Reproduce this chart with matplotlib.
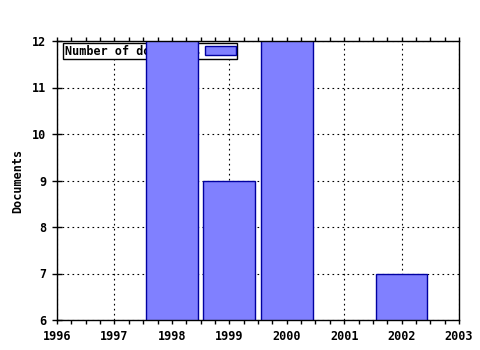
import matplotlib
matplotlib.use("Agg")
import matplotlib.pyplot as plt
from matplotlib.ticker import MultipleLocator

years = [1998, 1999, 2000, 2002]
documents = [13, 9, 13, 7]
xticks = [1996, 1997, 1998, 1999, 2000, 2001, 2002, 2003]
yticks = [6, 7, 8, 9, 10, 11, 12]
series_label = "Number of documents"

font = {"family": "DejaVu Sans Mono", "weight": "bold", "size": 8.5}

fig = plt.figure(figsize=(4.8, 3.5), dpi=100)
ax = fig.add_axes([57/480, 1-320/350, (459-57)/480, (320-41)/350])

ax.bar(years, documents, width=0.9, color="#8080FF", edgecolor="#0000A0",
       linewidth=1, zorder=3, label=series_label, bottom=0)

ax.set_xlim(1996, 2003)
ax.set_ylim(6, 12)
ax.set_xticks(xticks)
ax.set_yticks(yticks)
ax.xaxis.set_minor_locator(MultipleLocator(0.25))
ax.set_xticklabels([str(x) for x in xticks], fontdict=font)
ax.set_yticklabels([str(y) for y in yticks], fontdict=font)
ax.tick_params(axis="x", which="both", direction="out", length=3, width=1,
               top=True, pad=4)
ax.tick_params(axis="y", which="major", direction="inout", length=7, width=1,
               pad=4)
ax.grid(True, which="major", linestyle=(0, (1.5, 3)), color="black",
        linewidth=0.8, zorder=1)
for s in ax.spines.values():
    s.set_linewidth(1.0)
    s.set_zorder(4)

ax.set_ylabel("Documents", fontdict=font, labelpad=6)

leg = ax.legend(loc="upper left", bbox_to_anchor=(0.015, 0.993),
                borderaxespad=0, fancybox=False, edgecolor="black",
                markerfirst=False, handlelength=2.6, handleheight=0.7,
                handletextpad=0.4, borderpad=0.15, framealpha=1,
                prop={"family": "DejaVu Sans Mono", "weight": "bold", "size": 8.5})
leg.get_frame().set_linewidth(1)
leg.set_zorder(2)

fig.savefig("out.png", dpi=100)
